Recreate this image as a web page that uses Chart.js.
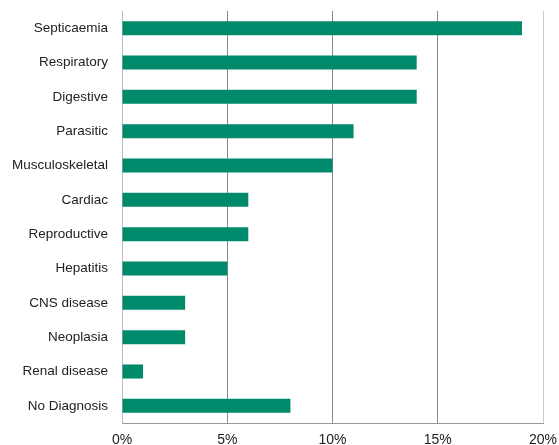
<!DOCTYPE html>
<html>
<head>
<meta charset="utf-8">
<script src="https://cdn.jsdelivr.net/npm/chart.js@4"></script>
<style>
  html, body { margin: 0; padding: 0; background: #fff; }
  #wrap { width: 559px; height: 445px; }
</style>
</head>
<body>
<div id="wrap"><canvas id="myChart"></canvas></div>
<script>
const categories = ['Septicaemia', 'Respiratory', 'Digestive', 'Parasitic', 'Musculoskeletal', 'Cardiac',
    'Reproductive', 'Hepatitis', 'CNS disease', 'Neoplasia', 'Renal disease', 'No Diagnosis']
const percentages = [19, 14, 14, 11, 10, 6, 6, 5, 3, 3, 1, 8]
const xTicks = [0, 5, 10, 15, 20]

const fontFamily = "'Liberation Sans', Arial, sans-serif"

function noPadding(axis) {
    axis.paddingTop = 0
    axis.paddingBottom = 0
    axis.paddingLeft = 0
    axis.paddingRight = 0
}

const ctx = document.getElementById('myChart')
new Chart(ctx, {
    type: 'bar',
    data: {
        labels: categories,
        datasets: [{
            data: percentages,
            backgroundColor: '#008a6c',
            borderWidth: 0,
            barPercentage: 0.41,
            categoryPercentage: 1
        }]
    },
    options: {
        indexAxis: 'y',
        responsive: true,
        maintainAspectRatio: false,
        animation: false,
        layout: { padding: { top: 11, right: 16, left: 0, bottom: 0 } },
        plugins: { legend: { display: false }, tooltip: { enabled: false } },
        scales: {
            x: {
                min: 0,
                max: 20,
                afterBuildTicks: axis => { axis.ticks = xTicks.map(v => ({ value: v })) },
                afterFit: axis => { axis.height = 22; noPadding(axis) },
                border: { display: true, color: '#999' },
                grid: {
                    drawTicks: false,
                    color: c => (c.index === 0 ? '#bbb' : (c.index === xTicks.length - 1 ? '#ccc' : '#888'))
                },
                ticks: {
                    padding: 9,
                    color: '#222',
                    font: { family: fontFamily, size: 14 },
                    callback: v => v + '%'
                }
            },
            y: {
                afterFit: axis => { axis.width = 122; noPadding(axis) },
                border: { display: true, color: '#bbb' },
                grid: { display: false, drawTicks: false },
                ticks: {
                    padding: 14,
                    color: '#222',
                    font: { family: fontFamily, size: 13.5 }
                }
            }
        }
    }
})
</script>
</body>
</html>
